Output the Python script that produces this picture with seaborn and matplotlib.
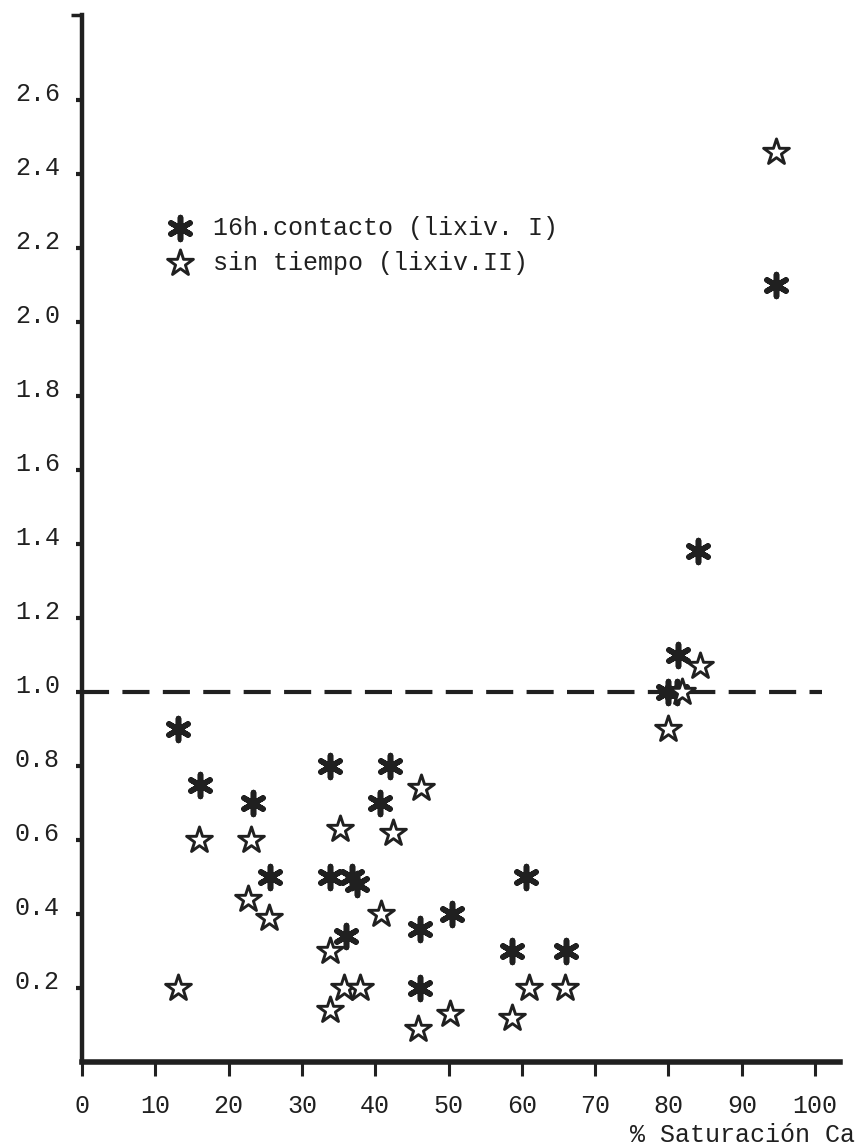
import matplotlib
matplotlib.use("Agg")
import matplotlib.pyplot as plt
import matplotlib.transforms as mtransforms
import seaborn as sns
import pandas as pd

# ---- data ----
sat_contacto = [13.1, 16.1, 23.3, 25.6, 33.8, 33.8, 36.8, 37.5, 42.0, 40.7, 36.0,
                46.1, 50.5, 46.1, 60.6, 58.7, 66.0, 84.0, 81.3, 80.0, 81.2, 94.7]
val_contacto = [0.90, 0.75, 0.70, 0.50, 0.80, 0.50, 0.50, 0.48, 0.80, 0.70, 0.34,
                0.36, 0.40, 0.20, 0.50, 0.30, 0.30, 1.38, 1.10, 1.00, 1.00, 2.10]

sat_sin = [15.9, 23.0, 22.6, 25.5, 13.1, 35.2, 42.4, 46.2, 40.8, 33.8, 35.7,
           37.9, 33.8, 45.8, 50.2, 58.7, 61.0, 65.9, 84.3, 81.9, 80.0, 94.7]
val_sin = [0.60, 0.60, 0.44, 0.39, 0.20, 0.63, 0.62, 0.74, 0.40, 0.30, 0.20,
           0.20, 0.14, 0.09, 0.13, 0.12, 0.20, 0.20, 1.07, 1.00, 0.90, 2.46]

x_ticks = [0, 10, 20, 30, 40, 50, 60, 70, 80, 90, 100]
y_ticks = [0.2, 0.4, 0.6, 0.8, 1.0, 1.2, 1.4, 1.6, 1.8, 2.0, 2.2, 2.4, 2.6]
y_tick_labels = ["0.2", "0.4", "0.6", "0.8", "1.0", "1.2", "1.4", "1.6",
                 "1.8", "2.0", "2.2", "2.4", "2.6"]
label_contacto = "16h.contacto (lixiv. I)"
label_sin = "sin tiempo (lixiv.II)"
x_label = "% Saturación Ca"
ref_line = 1.0

df_c = pd.DataFrame({"sat": sat_contacto, "val": val_contacto})
df_s = pd.DataFrame({"sat": sat_sin, "val": val_sin})

# ---- style ----
sns.set_style("white")
plt.rcParams["font.family"] = ["Liberation Mono", "DejaVu Sans Mono"]
ink = "#202020"

fig = plt.figure(figsize=(8.58, 11.45), dpi=100)
ax = fig.add_axes([82 / 858, 1 - 1062 / 1145, (840 - 82) / 858, (1062 - 15) / 1145])

sns.scatterplot(data=df_c, x="sat", y="val", ax=ax, marker=(6, 2, 0), s=250,
                color=ink, linewidth=4.0, label=label_contacto, zorder=3)
sns.scatterplot(data=df_s, x="sat", y="val", ax=ax, marker="*", s=380,
                facecolor="white", edgecolor=ink, linewidth=2.1,
                label=label_sin, zorder=4)

ax.axhline(ref_line, xmin=0, xmax=(822 - 82) / 758, color=ink, lw=3.0,
           ls=(0, (6.5, 3.2)), zorder=2)

ax.set_xlim(0, 103.4)
ax.set_ylim(0, 2.83)

ax.set_xticks(x_ticks)
ax.set_xticklabels([str(v) for v in x_ticks], fontsize=18, color=ink)
ax.set_yticks(y_ticks)
ax.set_yticklabels(y_tick_labels, fontsize=18, color=ink)
ax.set_yticks([2.83], minor=True)

ax.tick_params(axis="x", direction="out", length=10, width=2.2, color=ink, pad=13,
               bottom=True)
ax.tick_params(axis="y", direction="out", length=4, width=3, color=ink, pad=12,
               left=True)
ax.tick_params(axis="y", which="minor", direction="out", length=8, width=2.5,
               color=ink, left=True)

offset = mtransforms.ScaledTranslation(0, 6 / 72, fig.dpi_scale_trans)
for lab in ax.get_yticklabels():
    lab.set_transform(lab.get_transform() + offset)

for side in ["top", "right"]:
    ax.spines[side].set_visible(False)
ax.spines["left"].set_linewidth(3.2)
ax.spines["bottom"].set_linewidth(4)
ax.spines["left"].set_color(ink)
ax.spines["bottom"].set_color(ink)

ax.set_ylabel("")
ax.set_xlabel(x_label, fontsize=18, color=ink, loc="right")
ax.xaxis.set_label_coords(1.02, -0.058)

leg = ax.legend(loc="upper left", bbox_to_anchor=(0.1, 0.818), frameon=False,
                fontsize=18, handlelength=1.0, handletextpad=0.8,
                labelspacing=0.45, borderaxespad=0)
for t in leg.get_texts():
    t.set_color(ink)

fig.savefig("out.png", dpi=100, facecolor="white")
